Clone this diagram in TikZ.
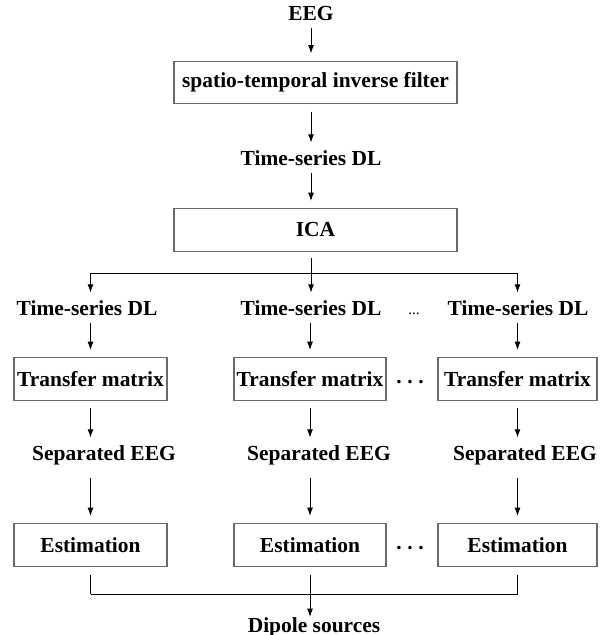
\documentclass[tikz,border=0pt]{standalone}
\usepackage{fontspec}
\setmainfont{Liberation Serif}
\usetikzlibrary{arrows.meta,positioning}
\definecolor{GrisBorde}{HTML}{6A6A6A}

\begin{document}
\begin{tikzpicture}[
  x=0.03cm,y=-0.03cm,
  font=\bfseries\fontsize{18.3}{22}\selectfont,
  caja/.style={draw=GrisBorde,line width=1pt,minimum height=1.27cm,inner sep=2pt},
  rotulo/.style={inner sep=0pt,anchor=base},
  arr/.style={-{Latex[length=7pt,width=5pt]},line width=0.7pt,
    shorten <=0.22cm,shorten >=0.22cm},
  linea/.style={line width=0.7pt}
]
  \useasboundingbox (0,0) rectangle (604,635);

  % Tronco comun: filtro inverso e ICA.
  \node[rotulo] (eeg) at (311,20) {EEG};
  \node[caja,minimum width=8.49cm] (filtro) at (315.5,82.5)
    {spatio-temporal inverse filter};
  \node[rotulo] (serie) at (311,165) {Time-series DL};
  \node[caja,minimum width=8.49cm] (ica) at (315.5,230) {ICA};
  \draw[arr] (eeg.south) -- (eeg.south |- filtro.north);
  \draw[arr] (filtro.south -| serie) -- (serie.north);
  \draw[arr] (serie.south) -- (serie.south |- ica.north);

  % Reparto en tres ramas.
  \coordinate (ramaA) at (90.5,273);
  \coordinate (ramaB) at (311,273);
  \coordinate (ramaC) at (517.5,273);
  \draw[linea,shorten <=0.2cm] (ica.south -| ramaB) -- (ramaB);
  \draw[linea] (ramaA) -- (ramaC);

  \node[rotulo] (serieA) at (87,315) {Time-series DL};
  \node[rotulo] (serieB) at (311,315) {Time-series DL};
  \node[rotulo] (serieC) at (518,315) {Time-series DL};
  \node[rotulo,font=\fontsize{13}{15}\selectfont] (etc) at (414,314) {...};
  \draw[arr,shorten <=0pt] (ramaA) -- (ramaA |- serieA.north);
  \draw[arr,shorten <=0pt] (ramaB) -- (ramaB |- serieB.north);
  \draw[arr,shorten <=0pt] (ramaC) -- (ramaC |- serieC.north);

  % Matrices de transferencia.
  \node[caja,minimum width=4.59cm] (matA) at (90.5,379) {Transfer matrix};
  \node[caja,minimum width=4.56cm] (matB) at (310,379) {Transfer matrix};
  \node[caja,minimum width=4.77cm] (matC) at (517.5,379) {Transfer matrix};
  \node[rotulo] (ptsM) at (410,383) {.\hspace{4.8pt}.\hspace{4.8pt}.};
  \draw[arr] (matA.north |- serieA.south) -- (matA.north);
  \draw[arr] (matB.north |- serieB.south) -- (matB.north);
  \draw[arr] (matC.north |- serieC.south) -- (matC.north);

  \node[rotulo] (sepA) at (104,460) {Separated EEG};
  \node[rotulo] (sepB) at (319,460) {Separated EEG};
  \node[rotulo] (sepC) at (525,460) {Separated EEG};
  \draw[arr] (matA.south) -- (matA.south |- sepA.north);
  \draw[arr] (matB.south) -- (matB.south |- sepB.north);
  \draw[arr] (matC.south) -- (matC.south |- sepC.north);

  % Estimacion de dipolos.
  \node[caja,minimum width=4.59cm] (estA) at (90.5,545) {Estimation};
  \node[caja,minimum width=4.56cm] (estB) at (310,545) {Estimation};
  \node[caja,minimum width=4.77cm] (estC) at (517.5,545) {Estimation};
  \node[rotulo] (ptsE) at (410,549) {.\hspace{4.8pt}.\hspace{4.8pt}.};
  \draw[arr,shorten <=0.4cm] (estA.north |- sepA.south) -- (estA.north);
  \draw[arr,shorten <=0.4cm] (estB.north |- sepB.south) -- (estB.north);
  \draw[arr,shorten <=0.4cm] (estC.north |- sepC.south) -- (estC.north);

  % Union final.
  \coordinate (finA) at (90.5,594);
  \coordinate (finC) at (517.5,594);
  \node[rotulo] (dipolo) at (314,632) {Dipole sources};
  \draw[linea,shorten <=0.25cm] (estA.south) -- (finA);
  \draw[linea,shorten <=0.25cm] (estC.south) -- (finC);
  \draw[linea] (finA) -- (finC);
  \draw[arr,shorten <=0.25cm,shorten >=0pt] (estB.south) -- (estB.south |- dipolo.north);
\end{tikzpicture}
\end{document}
